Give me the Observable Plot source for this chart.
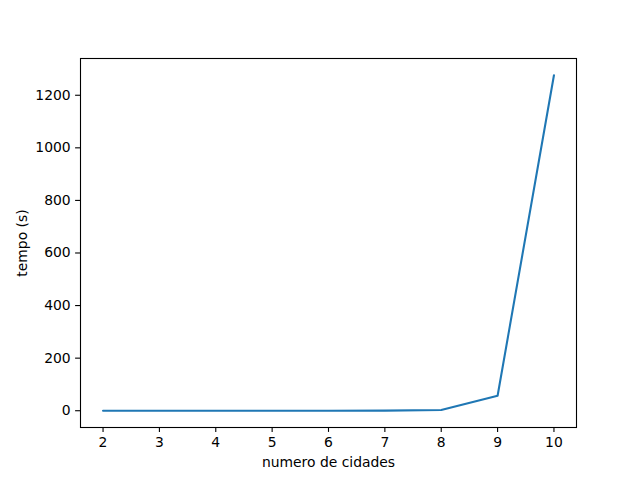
<!DOCTYPE html>
<html>
<head>
<meta charset="utf-8">
<script src="https://cdn.jsdelivr.net/npm/d3@7"></script>
<script src="https://cdn.jsdelivr.net/npm/@observablehq/plot@0.6"></script>
<style>
  html, body { margin: 0; padding: 0; background: #fff; }
</style>
</head>
<body>
<div id="chart"></div>
<script>
const cidades = [2, 3, 4, 5, 6, 7, 8, 9, 10];
const tempos = [0.0, 0.0, 0.0, 0.01, 0.05, 0.4, 3, 57, 1276];
const xTicks = [2, 3, 4, 5, 6, 7, 8, 9, 10];
const yTicks = [0, 200, 400, 600, 800, 1000, 1200];

const data = cidades.map((c, i) => ({c, t: tempos[i]}));

const font = "DejaVu Sans, sans-serif";
const chart = Plot.plot({
  width: 640,
  height: 480,
  marginLeft: 80,
  marginRight: 64,
  marginTop: 58,
  marginBottom: 53,
  style: {fontFamily: font, fontSize: "13.9px", background: "#fff", color: "#000"},
  x: {domain: [1.6, 10.4]},
  y: {domain: [-63.8, 1339.8]},
  marks: [
    Plot.line(data, {x: "c", y: "t", stroke: "#1f77b4", strokeWidth: 2.08}),
    Plot.frame({stroke: "#000", strokeWidth: 1.1}),
    Plot.axisX({ticks: xTicks, tickSize: 4.9, tickPadding: 4.9, tickFormat: d3.format("d"),
      label: "numero de cidades", labelAnchor: "center", labelArrow: "none", labelOffset: 39, strokeWidth: 1.1}),
    Plot.axisY({ticks: yTicks, tickSize: 4.9, tickPadding: 4.9, tickFormat: d3.format("d"),
      label: "tempo (s)", labelAnchor: "center", labelArrow: "none", labelOffset: 63, strokeWidth: 1.1})
  ]
});
document.getElementById("chart").appendChild(chart);
</script>
</body>
</html>
